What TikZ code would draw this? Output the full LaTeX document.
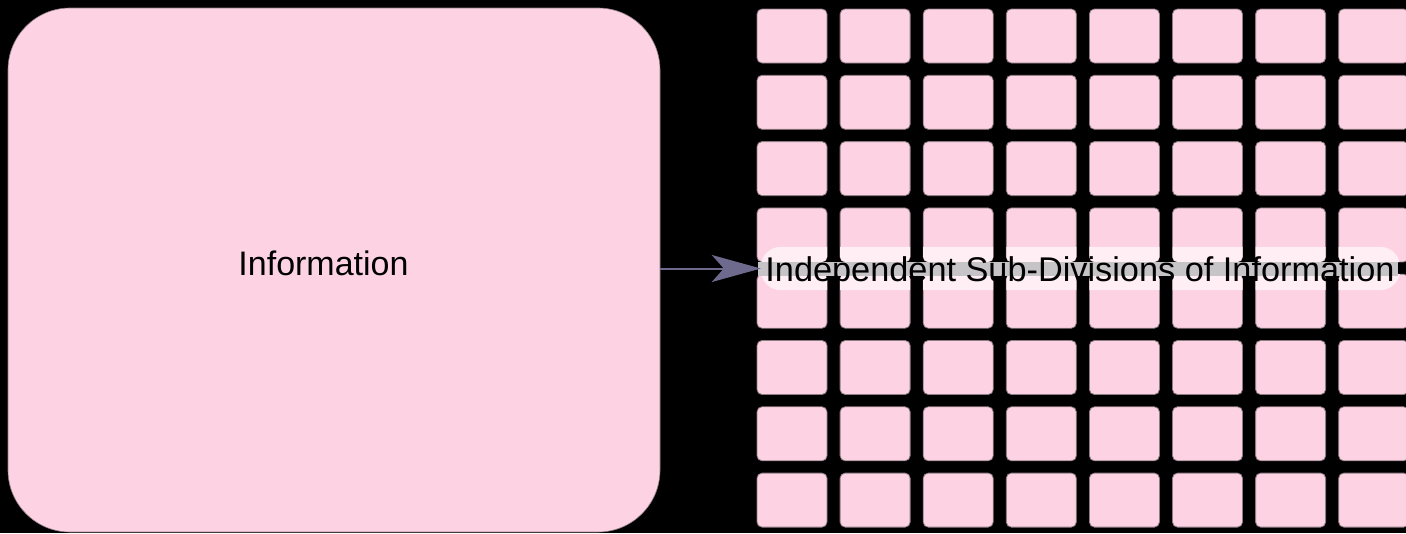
\documentclass[tikz,border=0pt]{standalone}
\usepackage{fontspec}
\setmainfont{Liberation Sans}
\newfontfamily\labfont{Liberation Sans}
\usetikzlibrary{arrows.meta}
\definecolor{tilepink}{HTML}{FDD2E3}
\definecolor{tileedge}{HTML}{8E7C84}
\definecolor{lightpink}{HTML}{FFEEF4}
\definecolor{bandgray}{HTML}{C6C4C6}
\definecolor{arrowcol}{HTML}{6E6A8E}
\tikzset{
  tile/.style={fill=tilepink, draw=tileedge, line width=0.8pt, rounded corners=5pt},
  bigbox/.style={fill=tilepink, draw=tileedge, line width=0.6pt, rounded corners=62pt,
    minimum width=652pt, minimum height=524pt, inner sep=0pt},
  labtext/.style={font=\labfont\fontsize{34}{38}\selectfont, text=black},
  sublabtext/.style={font=\labfont\fontsize{34.3}{38}\selectfont, text=black},
  flow/.style={draw=arrowcol, line width=2pt, -{Stealth[length=49pt,width=27pt,inset=12pt]}},
}
\begin{document}
\begin{tikzpicture}[x=1pt,y=-1pt]
\useasboundingbox (0,0) rectangle (1406,533);
\clip (0,0) rectangle (1406,533);
\fill[black] (0,0) rectangle (1406,533);
% big box
\node[bigbox] (info) at (334,270) {};
\node[labtext, anchor=base] (infotext) at (323.5,275) {Information};
% grid of tiles
\foreach \i in {0,...,7}{
  \foreach \j in {0,...,7}{
    \path[tile] ({757+83.1*\i},{9+66.3*\j}) rectangle ++(70,54);
  }
}
% label shape (invisible, used for clipping)
\node[minimum width=639pt, minimum height=43pt, inner sep=0pt] (sub) at (1080.5,268.5) {};
\begin{scope}
  \path[clip, rounded corners=20pt] (sub.south west) rectangle (sub.north east);
  \foreach \i in {0,...,7}{
    \foreach \j in {3,4}{
      \fill[lightpink, rounded corners=5pt] ({757+83.1*\i},{9+66.3*\j}) rectangle ++(70,54);
    }
  }
\end{scope}
\fill[bandgray] (758,262) rectangle (1398,276);
\node[sublabtext, anchor=base] (subtext) at (1080,281) {Independent Sub-Divisions of Information};
% connector
\draw[flow] (info.east |- sub.west) -- (sub.west);
\end{tikzpicture}
\end{document}
